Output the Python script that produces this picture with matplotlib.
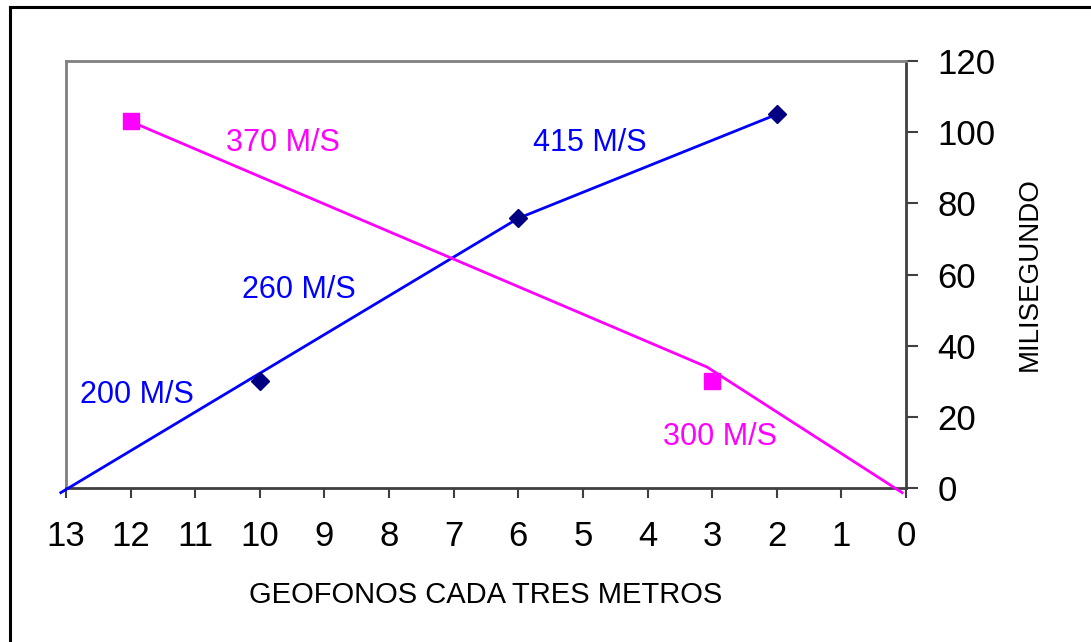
import matplotlib
matplotlib.use("Agg")
import matplotlib.pyplot as plt
from matplotlib.lines import Line2D

plt.rcParams['font.family'] = ['Liberation Sans', 'DejaVu Sans']

# Data
blue_pts_x = [10, 6, 2]
blue_pts_y = [30, 76, 105]
blue_fit_x = [13.08, 6, 2]
blue_fit_y = [-1.3, 75.8, 105]

mag_pts_x = [12, 3]
mag_pts_y = [103, 30]
mag_fit_x = [12, 3.08, 0.06]
mag_fit_y = [103, 34, -1.3]

labels = ["370 M/S", "415 M/S", "260 M/S", "200 M/S", "300 M/S"]
label_x = [9.64, 4.89, 9.39, 11.90, 2.88]
label_y = [97.0, 97.0, 55.7, 26.1, 14.3]
label_colors = ["#FF00FF", "#0000FF", "#0000FF", "#0000FF", "#FF00FF"]

x_ticks = list(range(0, 14))
y_ticks = [0, 20, 40, 60, 80, 100, 120]

W, H = 1091, 642
fig = plt.figure(figsize=(W / 100, H / 100), dpi=100)
ax = fig.add_axes([66 / W, 1 - 488 / H, (906 - 66) / W, (488 - 61) / H])

ax.plot(blue_fit_x, blue_fit_y, color="#0000FF", lw=2, clip_on=False, zorder=3)
ax.plot(mag_fit_x, mag_fit_y, color="#FF00FF", lw=2, clip_on=False, zorder=3)
ax.plot(blue_pts_x, blue_pts_y, linestyle="none", marker="D", ms=9.5,
        color="#000080", zorder=4, clip_on=False)
ax.plot(mag_pts_x, mag_pts_y, linestyle="none", marker="s", ms=11.5,
        color="#FF00FF", zorder=4, clip_on=False)

for t, x, y, c in zip(labels, label_x, label_y, label_colors):
    ax.text(x, y, t, color=c, fontsize=22, ha="center", va="center")

ax.set_xlim(13, 0)
ax.set_ylim(0, 120)
ax.set_xticks(x_ticks)
ax.set_yticks(y_ticks)
ax.yaxis.tick_right()
ax.yaxis.set_label_position("right")

ax.tick_params(axis="x", direction="out", length=7.2, width=1.5, color="#404040",
               labelsize=25, pad=16)
ax.tick_params(axis="y", direction="out", length=8.6, width=1.5, color="#404040",
               labelsize=25, pad=14)

for s in ["top", "left"]:
    ax.spines[s].set_color("#808080")
    ax.spines[s].set_linewidth(2)
for s in ["bottom", "right"]:
    ax.spines[s].set_color("#404040")
    ax.spines[s].set_linewidth(2)

ax.set_xlabel("GEOFONOS CADA TRES METROS", fontsize=21, labelpad=20)
ax.set_ylabel("MILISEGUNDO", fontsize=20, labelpad=15)

# outer frame (top and left edges)
fig.add_artist(Line2D([10 / W, 1], [1 - 7 / H, 1 - 7 / H], transform=fig.transFigure,
                      color="black", lw=2.2))
fig.add_artist(Line2D([10 / W, 10 / W], [0, 1 - 7 / H], transform=fig.transFigure,
                      color="black", lw=2.2))

fig.savefig("out.png", dpi=100, facecolor="white")
